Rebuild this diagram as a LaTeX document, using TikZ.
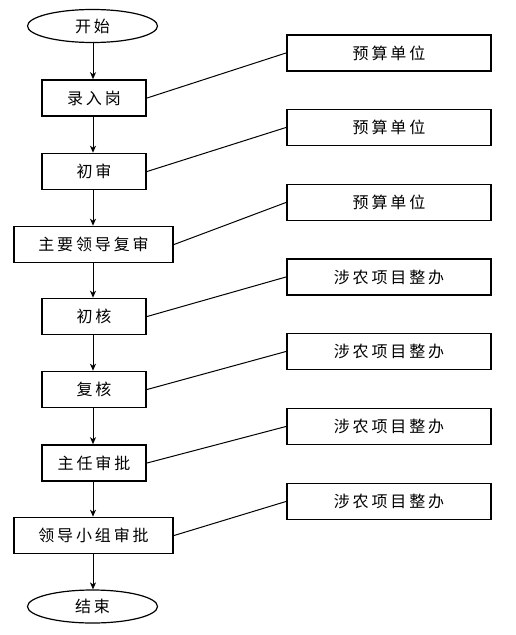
\documentclass[tikz,border=0pt]{standalone}
\usepackage{fontspec}
\newfontfamily\cjk[LetterSpace=18]{Noto Sans CJK SC}
\usetikzlibrary{arrows.meta,shapes.geometric}
\begin{document}
\begin{tikzpicture}[x=1pt,y=-1pt,
  txt/.style={font=\cjk\fontsize{16}{16}\selectfont},
  box/.style={txt,draw,line width=1.6pt,minimum height=36pt,inner sep=0pt},
  small/.style={box,minimum width=104.5pt},
  wide/.style={box,minimum width=159.5pt},
  rbox/.style={box,minimum width=204.5pt},
  term/.style={txt,draw,ellipse,line width=1.2pt,minimum width=130pt,minimum height=33pt,inner sep=0pt},
  arr/.style={line width=1pt,-{Stealth[length=7pt,width=6pt,inset=2pt]}},
  link/.style={line width=1pt}]
\useasboundingbox (0,0) rectangle (516,635);
\node[term] (start) at (92.5,26) {开始};
\node[small] (b1) at (94,98) {录入岗};
\node[small] (b2) at (94,171.5) {初审};
\node[wide] (b3) at (93.5,244.5) {主要领导复审};
\node[small] (b4) at (94,316.5) {初核};
\node[small] (b5) at (94,389.5) {复核};
\node[small] (b6) at (94,463) {主任审批};
\node[wide] (b7) at (93.5,535.5) {领导小组审批};
\node[term] (end) at (92.5,606.5) {结束};
\node[rbox] (r1) at (389,53) {预算单位};
\node[rbox] (r2) at (389,127.5) {预算单位};
\node[rbox] (r3) at (389,202.5) {预算单位};
\node[rbox] (r4) at (389,277) {涉农项目整办};
\node[rbox] (r5) at (389,351.5) {涉农项目整办};
\node[rbox] (r6) at (389,426.5) {涉农项目整办};
\node[rbox] (r7) at (389,501.5) {涉农项目整办};
\draw[arr] (start.south -| 93,0) -- (b1.north -| 93,0);
\draw[arr] (b1.south -| 93,0) -- (b2.north -| 93,0);
\draw[arr] (b2.south -| 93,0) -- (b3.north -| 93,0);
\draw[arr] (b3.south -| 93,0) -- (b4.north -| 93,0);
\draw[arr] (b4.south -| 93,0) -- (b5.north -| 93,0);
\draw[arr] (b5.south -| 93,0) -- (b6.north -| 93,0);
\draw[arr] (b6.south -| 93,0) -- (b7.north -| 93,0);
\draw[arr] (b7.south -| 93,0) -- (end.north -| 93,0);
\foreach \i in {1,...,7} \draw[link] (b\i.east) -- (r\i.west);
\end{tikzpicture}
\end{document}
